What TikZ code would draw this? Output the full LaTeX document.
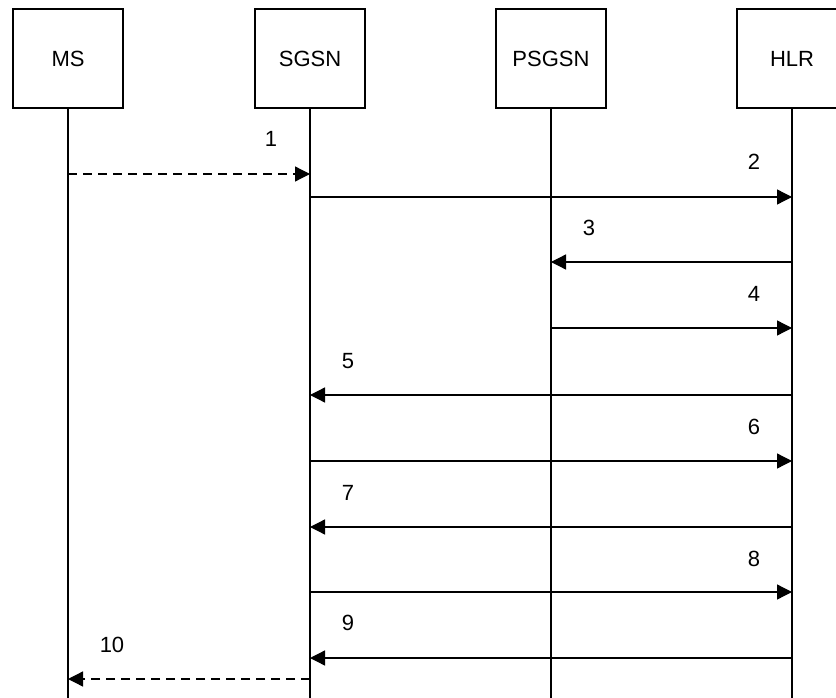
\documentclass[tikz,border=0pt]{standalone}
\usepackage{fontspec}
\setmainfont{Liberation Sans}
\usetikzlibrary{arrows.meta}
\tikzset{
  entity/.style={draw, line width=1.6pt, minimum width=110pt, minimum height=99pt, inner sep=0pt, font=\fontsize{22}{26}\selectfont},
  life/.style={line width=1.6pt},
  msg/.style={line width=1.3pt, -{Triangle[length=15pt,width=15pt]}},
  dmsg/.style={msg, dash pattern=on 9pt off 6pt},
  lbl/.style={font=\fontsize{22}{26}\selectfont, inner sep=0pt}
}
\begin{document}
\begin{tikzpicture}[x=1pt,y=-1pt]
\useasboundingbox (0,0) rectangle (836,698);
\clip (0,0) rectangle (836,698);
\fill[white] (0,0) rectangle (836,698);
\node[entity] (ms) at (68,58.5) {MS};
\node[entity] (sgsn) at (310,58.5) {SGSN};
\node[entity] (psgsn) at (551,58.5) {PSGSN};
\node[entity, draw=none, outer sep=0pt] (hlr) at (792,58.5) {HLR};
\draw[line width=1.6pt] (hlr.north east) -- (hlr.north west) -- (hlr.south west) -- (hlr.south east);
\coordinate (bot) at (0,700);
\foreach \n in {ms,sgsn,psgsn,hlr} \draw[life] (\n.south) -- (\n |- bot);
\coordinate (y1) at (0,174);
\coordinate (y2) at (0,197);
\coordinate (y3) at (0,262);
\coordinate (y4) at (0,328);
\coordinate (y5) at (0,395);
\coordinate (y6) at (0,461);
\coordinate (y7) at (0,527);
\coordinate (y8) at (0,592);
\coordinate (y9) at (0,658);
\coordinate (y10) at (0,679);
\draw[dmsg] (ms |- y1) -- (sgsn |- y1);
\draw[msg] (sgsn |- y2) -- (hlr |- y2);
\draw[msg] (hlr |- y3) -- (psgsn |- y3);
\draw[msg] (psgsn |- y4) -- (hlr |- y4);
\draw[msg] (hlr |- y5) -- (sgsn |- y5);
\draw[msg] (sgsn |- y6) -- (hlr |- y6);
\draw[msg] (hlr |- y7) -- (sgsn |- y7);
\draw[msg] (sgsn |- y8) -- (hlr |- y8);
\draw[msg] (hlr |- y9) -- (sgsn |- y9);
\draw[dmsg] (sgsn |- y10) -- (ms |- y10);
\node[lbl] (l1) at (271,139) {1};
\node[lbl] (l2) at (754,162) {2};
\node[lbl] (l3) at (589,228) {3};
\node[lbl] (l4) at (754,294) {4};
\node[lbl] (l5) at (348,361) {5};
\node[lbl] (l6) at (754,427) {6};
\node[lbl] (l7) at (348,493) {7};
\node[lbl] (l8) at (754,559) {8};
\node[lbl] (l9) at (348,623) {9};
\node[lbl] (l10) at (112,645) {10};
\end{tikzpicture}
\end{document}
